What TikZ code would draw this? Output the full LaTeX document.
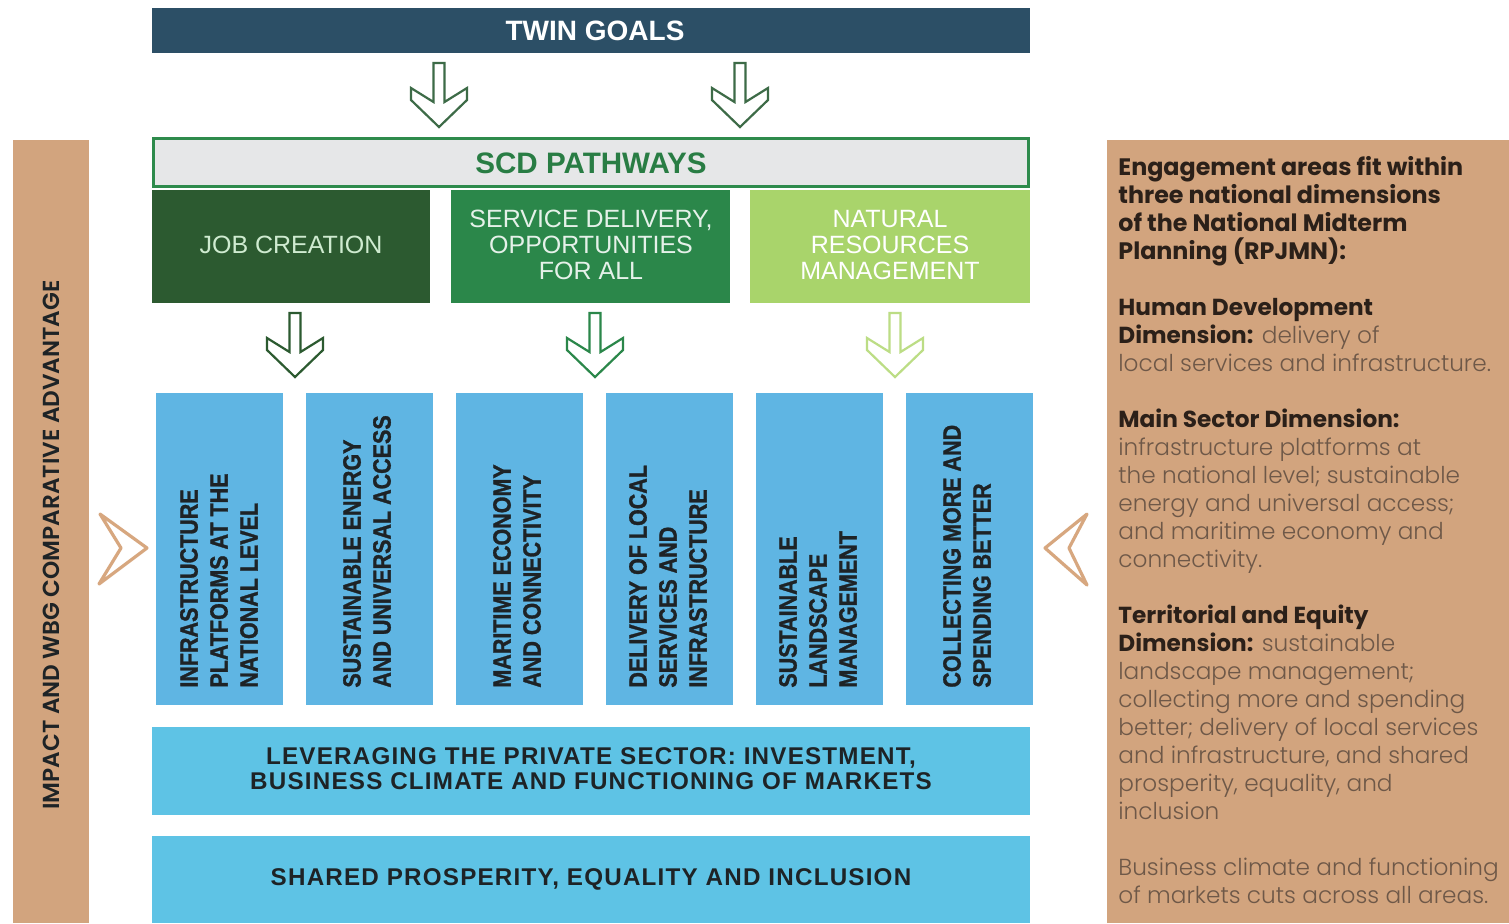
\documentclass[tikz,border=0pt]{standalone}
\usepackage{fontspec}
\setmainfont{Liberation Sans}
\newfontfamily\condb[FakeStretch=0.86,FakeBold=1.2]{Liberation Sans Bold}
\newfontfamily\barf[LetterSpace=5]{Liberation Sans Bold}
\newfontfamily\pop{Poppins}
\newfontfamily\popb{Poppins SemiBold}
\newfontfamily\popbb{Poppins Bold}
\newfontfamily\popl{Poppins Light}
\definecolor{navy}{HTML}{2C4F66}
\definecolor{scdgreen}{HTML}{2E8B4C}
\definecolor{scdgray}{HTML}{E6E7E8}
\definecolor{jobgreen}{HTML}{2C5A30}
\definecolor{servgreen}{HTML}{2B874A}
\definecolor{natgreen}{HTML}{A9D46B}
\definecolor{natarrow}{HTML}{BCDD85}
\definecolor{colblue}{HTML}{5FB5E3}
\definecolor{barblue}{HTML}{5EC3E5}
\definecolor{tan}{HTML}{D2A47E}
\definecolor{tanline}{HTML}{D7A77F}
\definecolor{darktxt}{HTML}{1E2326}
\definecolor{boldbrown}{HTML}{2B2019}
\definecolor{lightbrown}{HTML}{6E5848}
\definecolor{toparrow}{HTML}{3D6B47}
\begin{document}
\begin{tikzpicture}[x=0.5pt,y=-0.5pt,
  coltxt/.style={rotate=90,anchor=west,align=left,inner sep=0pt,text=darktxt,
     font=\condb\fontsize{12.5}{15}\selectfont},
  pathtxt/.style={align=center,inner sep=0pt,font=\fontsize{12.5}{13}\selectfont},
  bartxt/.style={align=center,inner sep=0pt,text=darktxt,font=\barf\fontsize{12.1}{12.5}\selectfont},
  chev/.style={draw=tanline,line width=1.6pt,line join=round,fill=white},
  hollow/.pic={\draw[pic actions,line width=1.1pt,line join=miter,fill=white]
     (-5.5,0) -- (5.5,0) -- (5.5,39) -- (28,25) -- (28,37) -- (0,64)
     -- (-28,37) -- (-28,25) -- (-5.5,39) -- cycle;}
]
\useasboundingbox (0,0) rectangle (1509,923);
\fill[white] (0,0) rectangle (1509,923);

% side panels
\fill[tan] (13,140) rectangle (89,923);
\node[rotate=90,text=darktxt,font=\popb\fontsize{11.6}{12}\selectfont,inner sep=0pt]
  (impact) at (51,545) {IMPACT AND WBG COMPARATIVE ADVANTAGE};
\fill[tan] (1107,140) rectangle (1509,923);

% twin goals
\fill[navy] (152,8) rectangle (1030,53);
\node[text=white,font=\bfseries\fontsize{14}{14}\selectfont,inner sep=0pt] (twin) at (595,31) {TWIN GOALS};

% SCD pathways
\draw[fill=scdgray,draw=scdgreen,line width=1.6pt] (153.6,138.6) rectangle (1028.4,186.4);
\node[text=scdgreen!90!black,font=\bfseries\fontsize{14.8}{15}\selectfont,inner sep=0pt] (scd) at (591,163) {SCD PATHWAYS};

\fill[jobgreen] (152,190) rectangle (430,303);
\fill[servgreen] (451,190) rectangle (730,303);
\fill[natgreen] (750,190) rectangle (1030,303);
\node[pathtxt,text=green!10!white!88!jobgreen] (job) at (291,245) {JOB CREATION};
\node[pathtxt,text=white!88!servgreen] (serv) at (591,245) {SERVICE DELIVERY,\\OPPORTUNITIES\\FOR ALL};
\node[pathtxt,text=white] (nat) at (890,245) {NATURAL\\RESOURCES\\MANAGEMENT};

% arrows
\pic[draw=toparrow] at (439,63) {hollow};
\pic[draw=toparrow] at (740,63) {hollow};
\pic[draw=jobgreen] at (295,313) {hollow};
\pic[draw=servgreen] at (595,313) {hollow};
\pic[draw=natarrow] at (895,313) {hollow};

% columns
\fill[colblue] (156,393) rectangle (283,705);
\fill[colblue] (306,393) rectangle (433,705);
\fill[colblue] (456,393) rectangle (583,705);
\fill[colblue] (606,393) rectangle (733,705);
\fill[colblue] (756,393) rectangle (883,705);
\fill[colblue] (906,393) rectangle (1033,705);
\node[coltxt] (c1) at (219,688) {INFRASTRUCTURE\\PLATFORMS AT THE\\NATIONAL LEVEL};
\node[coltxt] (c2) at (367,688) {SUSTAINABLE ENERGY\\AND UNIVERSAL ACCESS};
\node[coltxt] (c3) at (517,688) {MARITIME ECONOMY\\AND CONNECTIVITY};
\node[coltxt] (c4) at (668,688) {DELIVERY OF LOCAL\\SERVICES AND\\INFRASTRUCTURE};
\node[coltxt] (c5) at (818,688) {SUSTAINABLE\\LANDSCAPE\\MANAGEMENT};
\node[coltxt] (c6) at (967,688) {COLLECTING MORE AND\\SPENDING BETTER};

% bars
\fill[barblue] (152,727) rectangle (1030,815);
\node[bartxt] (lev) at (591,769) {LEVERAGING THE PRIVATE SECTOR: INVESTMENT,\\BUSINESS CLIMATE AND FUNCTIONING OF MARKETS};
\fill[barblue] (152,836) rectangle (1030,923);
\node[bartxt] (shared) at (591,879) {SHARED PROSPERITY, EQUALITY AND INCLUSION};

% chevrons
\draw[chev] (100,514) -- (147,548) -- (99,584) -- (121,548) -- cycle;
\draw[chev] (1087,514) -- (1045,548) -- (1087,585) -- (1069,548) -- cycle;

% right text
\node[anchor=north west,inner sep=0pt,align=left,text=lightbrown,
  font=\popl\fontsize{11.6}{14}\selectfont] (rtext) at (1118,156) {%
{\popbb\fontsize{11.9}{14}\selectfont\color{boldbrown}Engagement areas fit within}\\
{\popbb\fontsize{11.9}{14}\selectfont\color{boldbrown}three national dimensions}\\
{\popbb\fontsize{11.9}{14}\selectfont\color{boldbrown}of the National Midterm}\\
{\popbb\fontsize{11.9}{14}\selectfont\color{boldbrown}Planning (RPJMN):}\\[14pt]
{\popbb\color{boldbrown}Human Development}\\
{\popbb\color{boldbrown}Dimension:} delivery of\\
local services and infrastructure.\\[14pt]
{\popbb\color{boldbrown}Main Sector Dimension:}\\
infrastructure platforms at\\
the national level; sustainable\\
energy and universal access;\\
and maritime economy and\\
connectivity.\\[14pt]
{\popbb\color{boldbrown}Territorial and Equity}\\
{\popbb\color{boldbrown}Dimension:} sustainable\\
landscape management;\\
collecting more and spending\\
better; delivery of local services\\
and infrastructure, and shared\\
prosperity, equality, and\\
inclusion\\[14pt]
Business climate and functioning\\
of markets cuts across all areas.};
\end{tikzpicture}
\end{document}
